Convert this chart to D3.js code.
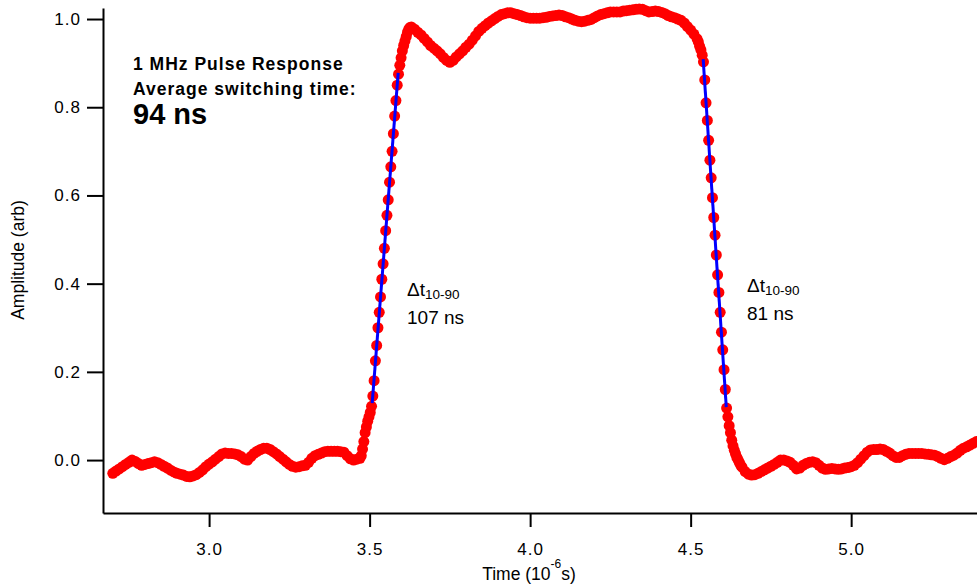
<!DOCTYPE html>
<html>
<head>
<meta charset="utf-8">
<script src="https://cdn.jsdelivr.net/npm/d3@7"></script>
<style>
  body { margin: 0; background: #fff; }
  text { font-family: "Liberation Sans", Arial, sans-serif; fill: #000; }
</style>
</head>
<body>
<div id="chart"></div>
<script>
// Pulse response data (amplitude, arb), sampled in segments
//=================================
var preStart = 2.70, preStep = 0.01;
var preAmp = [-0.030,-0.025,-0.020,-0.015,-0.010,-0.005,0.000,-0.003,-0.008,-0.012,
  -0.010,-0.008,-0.006,-0.004,-0.006,-0.010,-0.014,-0.018,-0.023,-0.027,
  -0.030,-0.032,-0.034,-0.037,-0.038,-0.036,-0.033,-0.028,-0.022,-0.015,
  -0.009,-0.004,0.002,0.008,0.014,0.016,0.015,0.015,0.014,0.012,
  0.008,0.002,0.000,0.008,0.015,0.020,0.024,0.027,0.027,0.024,
  0.019,0.014,0.008,0.002,-0.004,-0.010,-0.014,-0.016,-0.015,-0.013,
  -0.012,-0.005,0.004,0.010,0.013,0.016,0.019,0.020,0.020,0.020,
  0.020,0.019,0.018,0.010,0.003,0.000,0.002,0.004];

var riseStart = 3.474, riseStep = 0.004;
var riseAmp = [0.010,0.025,0.042,0.062,0.075,0.088,0.098,0.108,0.122,0.145,
  0.180,0.225,0.260,0.300,0.335,0.370,0.410,0.445,0.480,0.520,
  0.555,0.590,0.630,0.665,0.700,0.740,0.780,0.815,0.850,0.875,
  0.895,0.912,0.928,0.940,0.950,0.960,0.970,0.977,0.981];

var topStart = 3.63, topStep = 0.01;
var topAmp = [0.982,0.977,0.970,0.964,0.956,0.948,0.940,0.934,0.928,0.921,
  0.913,0.906,0.902,0.906,0.914,0.921,0.928,0.936,0.943,0.952,
  0.962,0.972,0.979,0.985,0.991,0.996,1.001,1.006,1.010,1.012,
  1.014,1.014,1.012,1.010,1.008,1.005,1.003,1.002,1.002,1.002,
  1.002,1.003,1.004,1.006,1.007,1.008,1.009,1.008,1.005,1.003,
  1.000,0.997,0.995,0.994,0.995,0.997,0.999,1.003,1.007,1.010,
  1.012,1.014,1.016,1.016,1.016,1.016,1.018,1.019,1.020,1.021,
  1.022,1.023,1.022,1.019,1.016,1.017,1.018,1.017,1.015,1.012,
  1.008,1.005,1.003,1.000,0.997,0.991,0.983,0.975,0.966,0.955];

var fallStart = 4.524, fallStep = 0.004;
var fallAmp = [0.948,0.938,0.930,0.918,0.903,0.862,0.810,0.770,0.725,0.680,
  0.640,0.595,0.550,0.510,0.465,0.420,0.380,0.335,0.290,0.250,
  0.205,0.160,0.118,0.098,0.078,0.062,0.045,0.032,0.022,0.014,
  0.006,0.000,-0.006,-0.012];

var postStart = 4.66, postStep = 0.01;
var postAmp = [-0.016,-0.026,-0.032,-0.034,-0.033,-0.030,-0.026,-0.022,-0.018,-0.014,
  -0.010,-0.005,0.000,0.000,-0.002,-0.005,-0.012,-0.020,-0.018,-0.012,
  -0.008,-0.005,-0.004,-0.006,-0.012,-0.018,-0.021,-0.020,-0.019,-0.020,
  -0.021,-0.020,-0.018,-0.017,-0.015,-0.012,-0.006,0.002,0.010,0.018,
  0.023,0.024,0.024,0.025,0.024,0.020,0.016,0.010,0.006,0.006,
  0.010,0.013,0.015,0.015,0.015,0.015,0.015,0.014,0.013,0.012,
  0.011,0.008,0.004,0.001,0.004,0.008,0.011,0.016,0.022,0.027,
  0.030,0.034,0.038,0.042];

// 10-90 fit lines
var riseFitT = [3.508, 3.589];
var riseFitA = [0.129, 0.878];
var fallFitT = [4.539, 4.611];
var fallFitA = [0.909, 0.120];

// tick values
var xTicks = [3.0, 3.5, 4.0, 4.5, 5.0];
var yTicks = [0.0, 0.2, 0.4, 0.6, 0.8, 1.0];

// Set up our chart
//=================================
var svgWidth = 977;
var svgHeight = 584;

var margin = { top: 8, right: 0, bottom: 71, left: 103 };
var width = svgWidth - margin.left - margin.right;
var height = svgHeight - margin.top - margin.bottom;

var svg = d3.select("#chart")
  .append("svg")
  .attr("width", svgWidth)
  .attr("height", svgHeight);

var chartGroup = svg.append("g")
  .attr("transform", `translate(${margin.left}, ${margin.top})`);

// scales
var xScale = d3.scaleLinear().domain([2.6695, 5.392]).range([0, width]);
var yScale = d3.scaleLinear().domain([-0.12, 1.025]).range([height, 0]);

// build points from the segments
var segments = [
  [preStart, preStep, preAmp],
  [riseStart, riseStep, riseAmp],
  [topStart, topStep, topAmp],
  [fallStart, fallStep, fallAmp],
  [postStart, postStep, postAmp]
];
var points = [];
segments.forEach(function(s) {
  s[2].forEach(function(a, i) {
    points.push({ t: s[0] + i * s[1], a: a });
  });
});

// axes
var bottomAxis = d3.axisBottom(xScale)
  .tickValues(xTicks)
  .tickFormat(d3.format(".1f"))
  .tickSizeInner(14)
  .tickSizeOuter(0)
  .tickPadding(16);

var leftAxis = d3.axisLeft(yScale)
  .tickValues(yTicks)
  .tickFormat(d3.format(".1f"))
  .tickSizeInner(16)
  .tickSizeOuter(0)
  .tickPadding(6);

var xAxis = chartGroup.append("g")
  .attr("transform", `translate(0, ${height})`)
  .call(bottomAxis);

var yAxis = chartGroup.append("g")
  .call(leftAxis);

[xAxis, yAxis].forEach(function(ax) {
  ax.select(".domain").attr("stroke", "#000").attr("stroke-width", 2);
  ax.selectAll(".tick line").attr("stroke", "#000").attr("stroke-width", 2);
  ax.selectAll(".tick text")
    .attr("font-family", "Liberation Sans, Arial, sans-serif")
    .attr("font-size", "17px")
    .attr("letter-spacing", "1px")
    .attr("fill", "#000");
});

// data markers
chartGroup.selectAll("circle")
  .data(points)
  .enter()
  .append("circle")
  .attr("cx", d => xScale(d.t))
  .attr("cy", d => yScale(d.a))
  .attr("r", 5.5)
  .attr("fill", "#ff0000");

// fit lines
var line = d3.line()
  .x(d => xScale(d[0]))
  .y(d => yScale(d[1]));

[[riseFitT, riseFitA], [fallFitT, fallFitA]].forEach(function(f) {
  chartGroup.append("path")
    .datum(d3.zip(f[0], f[1]))
    .attr("d", line)
    .attr("fill", "none")
    .attr("stroke", "#0000ff")
    .attr("stroke-width", 3);
});

// axis labels
svg.append("text")
  .attr("transform", "translate(24, 260) rotate(-90)")
  .attr("text-anchor", "middle")
  .attr("font-size", "17.5px")
  .text("Amplitude (arb)");

var xLabel = svg.append("text")
  .attr("x", 529)
  .attr("y", 580)
  .attr("text-anchor", "middle")
  .attr("font-size", "17.5px");
xLabel.append("tspan").text("Time (10");
xLabel.append("tspan").attr("dy", -12).attr("font-size", "12px").text("-6");
xLabel.append("tspan").attr("dy", 12).text("s)");

// annotation text
svg.append("text")
  .attr("x", 133).attr("y", 70)
  .attr("font-size", "17.5px").attr("font-weight", "bold")
  .attr("letter-spacing", "1px")
  .text("1 MHz Pulse Response");

svg.append("text")
  .attr("x", 133).attr("y", 95)
  .attr("font-size", "17.5px").attr("font-weight", "bold")
  .attr("letter-spacing", "1px")
  .text("Average switching time:");

svg.append("text")
  .attr("x", 133).attr("y", 124)
  .attr("font-size", "29px").attr("font-weight", "bold")
  .text("94 ns");

// delta t labels
function deltaLabel(x, y, value) {
  var t = svg.append("text")
    .attr("x", x).attr("y", y)
    .attr("font-size", "19px");
  t.append("tspan").text("\u0394t");
  t.append("tspan").attr("dy", 3).attr("font-size", "13.5px").text("10-90");
  svg.append("text")
    .attr("x", x).attr("y", y + 28)
    .attr("font-size", "19px")
    .text(value);
}
deltaLabel(407, 296, "107 ns");
deltaLabel(747, 292, "81 ns");
</script>
</body>
</html>
